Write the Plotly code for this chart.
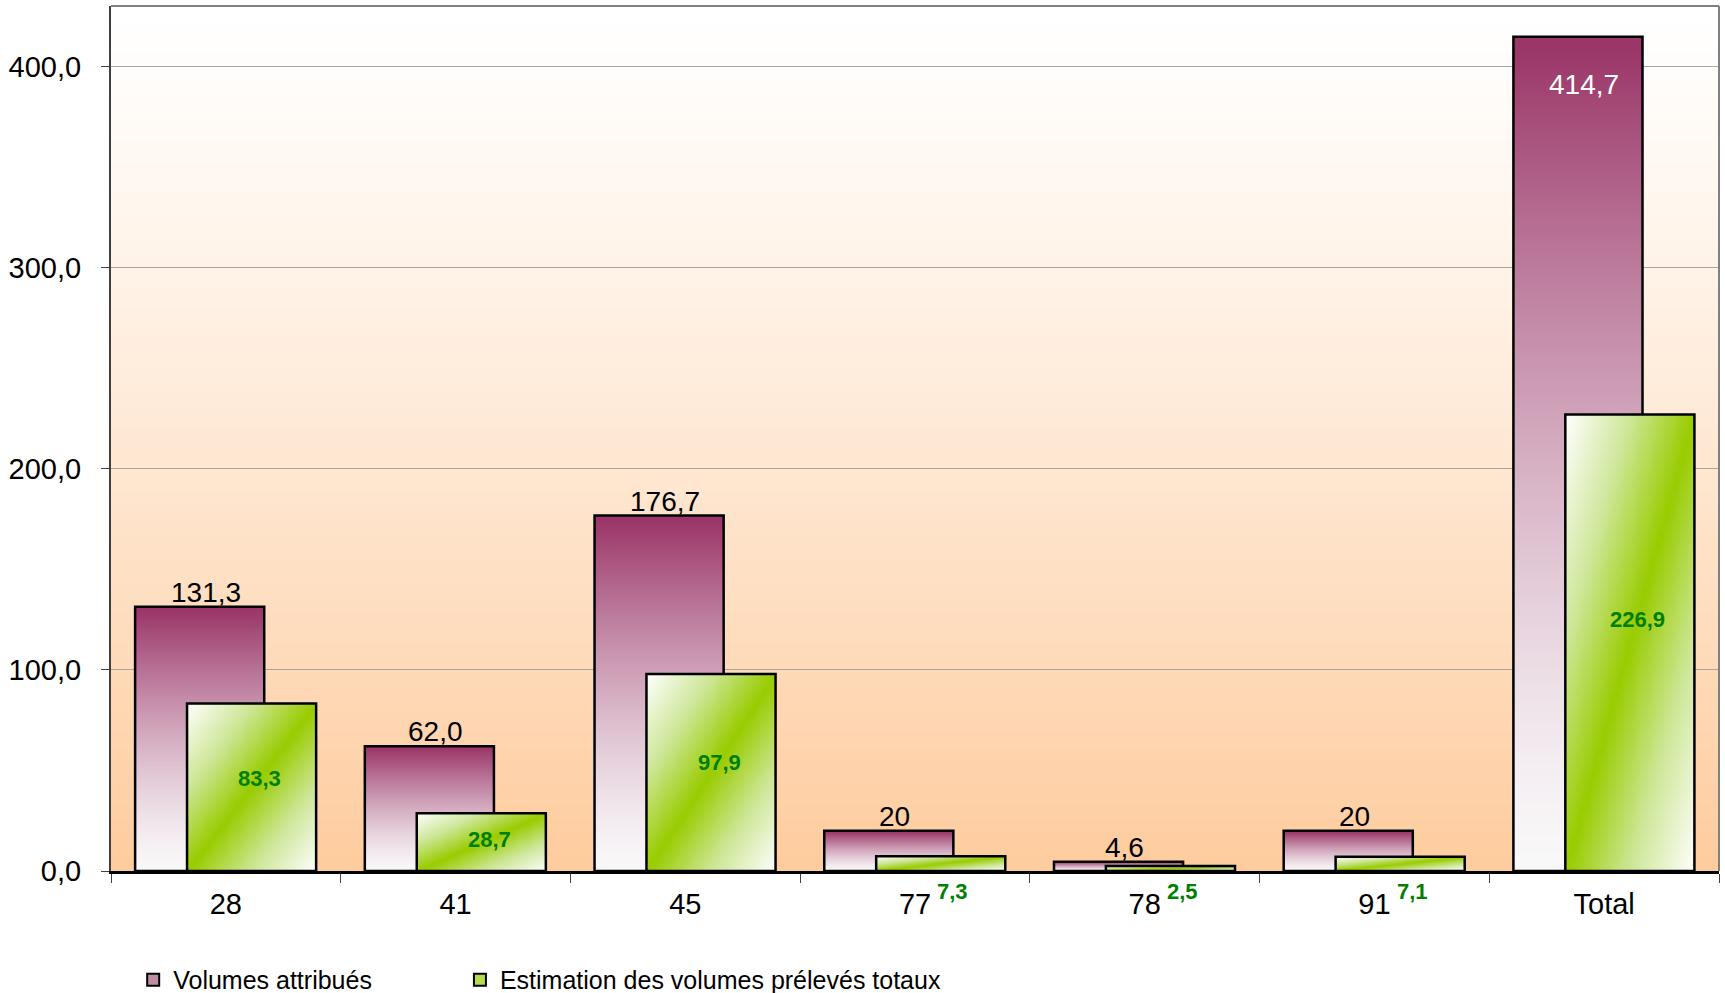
import base64
import struct
import zlib

import numpy as np
import plotly.graph_objects as go

# ---------------- data ----------------
categories = ['28', '41', '45', '77', '78', '91', 'Total']
attribues = [131.3, 62.0, 176.7, 20, 4.6, 20, 414.7]
attribues_labels = ['131,3', '62,0', '176,7', '20', '4,6', '20', '414,7']
preleves = [83.3, 28.7, 97.9, 7.3, 2.5, 7.1, 226.9]
preleves_labels = ['83,3', '28,7', '97,9', '7,3', '2,5', '7,1', '226,9']
y_ticks = [0, 100, 200, 300, 400]
series_names = ['Volumes attribués', 'Estimation des volumes prélevés totaux']

# ---------------- style ----------------
FONT = 'Liberation Sans, Arial, sans-serif'
BAR_W = 0.562
OFF_P = -0.395
OFF_G = -0.169
Y_MAX = 430
PURPLE = '#993366'
GREEN = '#99CC00'
LABEL_GREEN = '#008000'
X_RANGE = [-0.5, len(categories) - 0.5]


def png_vertical_gradient(top, bottom, n=256, gamma=1.2):
    rows = []
    for k in range(n):
        f = (k / (n - 1)) ** gamma
        rgb = [int(round(top[c] + (bottom[c] - top[c]) * f)) for c in range(3)]
        rows.append(b'\x00' + bytes(rgb) * 4)
    raw = b''.join(rows)

    def chunk(tag, data):
        return (struct.pack('>I', len(data)) + tag + data
                + struct.pack('>I', zlib.crc32(tag + data) & 0xffffffff))

    png = (b'\x89PNG\r\n\x1a\n'
           + chunk(b'IHDR', struct.pack('>IIBBBBB', 4, n, 8, 2, 0, 0, 0))
           + chunk(b'IDAT', zlib.compress(raw, 9))
           + chunk(b'IEND', b''))
    return 'data:image/png;base64,' + base64.b64encode(png).decode()


fig = go.Figure()

# --- purple series: vertical gradient fill (heatmap) + outline (bar) on x ---
NP = 40
tp = (np.arange(NP) + 0.5) / NP
for i, v in enumerate(attribues):
    x0 = i + OFF_P
    x1 = x0 + BAR_W
    z = np.repeat((tp ** 1.4)[:, None], 2, axis=1)
    fig.add_trace(go.Heatmap(
        x=[x0, (x0 + x1) / 2, x1], y=np.linspace(0, v, NP + 1), z=z,
        zmin=0, zmax=1, colorscale=[[0, '#F9F8F9'], [1, PURPLE]],
        zsmooth='best', showscale=False, hoverinfo='skip',
        xaxis='x', yaxis='y'))
fig.add_trace(go.Bar(
    x=list(range(len(categories))), y=attribues, width=BAR_W, offset=OFF_P,
    marker=dict(color='rgba(0,0,0,0)', line=dict(color='black', width=2.5)),
    showlegend=False, name=series_names[0], xaxis='x', yaxis='y'))

# --- green series: diagonal gradient fill (heatmap) + outline (bar) on x2 ---
NG = 40
u = (np.arange(NG) + 0.5) / NG
for i, v in enumerate(preleves):
    x0 = i + OFF_G
    x1 = x0 + BAR_W
    zg = np.abs(u[None, :] - u[:, None])
    fig.add_trace(go.Heatmap(
        x=np.linspace(x0, x1, NG + 1), y=np.linspace(0, v, NG + 1), z=zg,
        zmin=0, zmax=1, colorscale=[[0, GREEN], [0.5, '#CFE79A'], [1, '#FFFFFF']],
        zsmooth='best', showscale=False, hoverinfo='skip',
        xaxis='x2', yaxis='y'))
fig.add_trace(go.Bar(
    x=list(range(len(categories))), y=preleves, width=BAR_W, offset=OFF_G,
    marker=dict(color='rgba(0,0,0,0)', line=dict(color='black', width=2.5)),
    showlegend=False, name=series_names[1], xaxis='x2', yaxis='y'))

# --- legend entries ---
fig.add_trace(go.Bar(x=[None], y=[None], name=series_names[0], legend='legend',
                     marker=dict(color='#C08CA4', line=dict(color='black', width=2))))
fig.add_trace(go.Bar(x=[None], y=[None], name=series_names[1], legend='legend2',
                     marker=dict(color='#B4DA4E', line=dict(color='black', width=2))))

# --- data labels ---
annotations = []
for i, (v, lab) in enumerate(zip(attribues, attribues_labels)):
    xc = i + OFF_P + BAR_W / 2
    if v > 0.8 * Y_MAX:
        annotations.append(dict(x=xc, y=v, xref='x', yref='y', text=lab,
                                showarrow=False, yanchor='top', yshift=-30, xshift=6,
                                font=dict(family=FONT, size=28, color='white')))
    else:
        annotations.append(dict(x=xc, y=v, xref='x', yref='y', text=lab,
                                showarrow=False, yanchor='bottom', yshift=-3, xshift=6,
                                font=dict(family=FONT, size=28, color='black')))
for i, (v, lab) in enumerate(zip(preleves, preleves_labels)):
    xc = i + OFF_G + BAR_W / 2
    if v >= 20:
        annotations.append(dict(x=xc, y=v * 0.55, xref='x', yref='y', text='<b>%s</b>' % lab,
                                showarrow=False, yanchor='middle', xshift=8,
                                font=dict(family=FONT, size=22, color=LABEL_GREEN)))
    else:
        annotations.append(dict(x=xc, y=0, xref='x', yref='y', text='<b>%s</b>' % lab,
                                showarrow=False, yanchor='top', yshift=-6, xshift=12,
                                font=dict(family=FONT, size=22, color=LABEL_GREEN)))

legend_common = dict(orientation='h', xanchor='left', y=-0.126, yanchor='middle',
                     font=dict(family=FONT, size=25, color='black'),
                     bgcolor='rgba(0,0,0,0)', itemclick=False, itemdoubleclick=False)

fig.update_layout(
    width=1725, height=993,
    margin=dict(l=111, r=6, t=6, b=122, autoexpand=False),
    paper_bgcolor='white', plot_bgcolor='rgba(0,0,0,0)',
    separators=', ',
    font=dict(family=FONT, size=26, color='black'),
    barmode='overlay',
    showlegend=True,
    legend=dict(x=0.0138, **legend_common),
    legend2=dict(x=0.217, **legend_common),
    xaxis=dict(range=X_RANGE, tickmode='array', tickvals=list(range(len(categories))),
               ticktext=categories, ticks='', showgrid=False, zeroline=False,
               automargin=False,
               showline=True, linecolor='black', linewidth=2.5,
               tickfont=dict(family=FONT, size=29, color='black'),
               ticklabelstandoff=5,
               minor=dict(tickmode='linear', tick0=-0.5, dtick=1, ticks='outside',
                          ticklen=9, tickcolor='#404040', tickwidth=1, showgrid=False)),
    xaxis2=dict(range=X_RANGE, overlaying='x', visible=False, automargin=False),
    yaxis=dict(range=[0, Y_MAX], tickmode='array', tickvals=y_ticks, tickformat='.1f',
               ticks='outside', ticklen=8, tickcolor='#404040', tickwidth=1,
               automargin=False,
               showgrid=True, gridcolor='#A6A6A6', gridwidth=1, zeroline=False,
               showline=True, linecolor='#404040', linewidth=2,
               tickfont=dict(family=FONT, size=29, color='black'),
               ticklabelstandoff=14),
    annotations=annotations,
    shapes=[
        dict(type='line', xref='paper', yref='paper', x0=0, x1=1, y0=1, y1=1,
             line=dict(color='#808080', width=2)),
        dict(type='line', xref='paper', yref='paper', x0=1, x1=1, y0=0, y1=1,
             line=dict(color='#808080', width=2)),
    ],
    images=[dict(source=png_vertical_gradient((255, 255, 255), (254, 204, 158)),
                 xref='paper', yref='paper', x=0, y=1, sizex=1, sizey=1,
                 xanchor='left', yanchor='top', sizing='stretch', layer='below')],
)

fig.write_html('out.html',
               config={'displayModeBar': False},
               post_script="document.body.style.margin='0px';"
                           "document.body.style.overflow='hidden';")
